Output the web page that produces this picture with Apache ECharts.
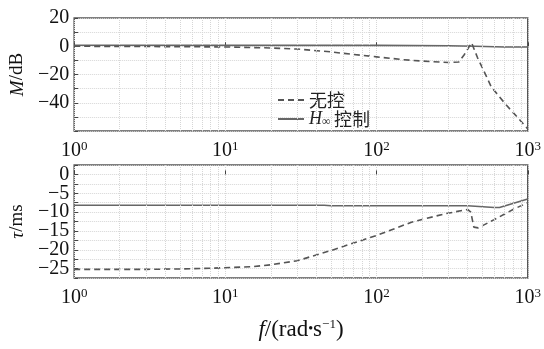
<!DOCTYPE html>
<html lang="zh">
<head>
    <meta charset="utf-8">
    <title>Bode - ECharts</title>
    <style>
* { margin: 0; padding: 0; }
#chart-container { position: relative; width: 544px; height: 349px; overflow: hidden; background: #fff; }
    </style>
</head>
<body>
<div id="chart-container"></div>
<script src="https://fastly.jsdelivr.net/npm/echarts@6/dist/echarts.min.js"></script>
<script>
// magnitude plot, M/dB
let magFreqOpen = [1, 3, 10, 20, 30, 50, 70, 100, 150, 200, 300, 350, 380, 425, 465, 515, 575, 630, 700, 770, 850, 1000];
let magOpen = [0, -0.2, -0.5, -1.2, -2, -4, -5.8, -7.5, -9.5, -10.5, -11.5, -11.2, -6, 2.5, -8, -18, -29, -34, -40, -45, -50, -58.5];
let magFreqHinf = [1, 100, 300, 450, 700, 1000];
let magHinf = [0.7, 0.6, 0.4, 0, -0.5, -0.5];

// delay plot, tau/ms
let tauFreqOpen = [1, 3, 5, 8, 15, 20, 30, 50, 100, 170, 280, 400, 420, 440, 470, 600, 800, 1000];
let tauOpen = [-25.2, -25.2, -25.1, -24.9, -24.5, -24, -22.9, -20.2, -16.2, -12.7, -10.5, -9.3, -10, -14, -14.2, -12, -9.3, -7.5];
let tauFreqHinf = [1, 45, 50, 400, 600, 650, 1000];
let tauHinf = [-8.2, -8.2, -8.3, -8.3, -8.8, -8.8, -6.5];

let minorX = [2, 3, 4, 5, 6, 7, 8, 9, 20, 30, 40, 50, 60, 70, 80, 90, 200, 300, 400, 500, 600, 700, 800, 900];

function zip(xs, ys) {
  return xs.map(function (x, i) { return [x, ys[i]]; });
}

var serif = "'Liberation Serif', 'DejaVu Serif', serif";
var lineColor = '#555';
var gridColor = '#d6d6d6';

var dom = document.getElementById('chart-container');
var myChart = echarts.init(dom, null, { renderer: 'canvas' });

function xAxisFor(idx, withName) {
  var ax = {
    type: 'log',
    logBase: 10,
    gridIndex: idx,
    min: 1,
    max: 1000,
    axisLine: { show: false },
    axisTick: { show: true, inside: true, length: 4, lineStyle: { color: '#444' } },
    splitLine: { show: true, lineStyle: { color: gridColor, type: 'dotted' } },
    axisLabel: {
      margin: 9,
      formatter: function (v) {
        return '{b|10}{s|' + Math.round(Math.log10(v)) + '}';
      },
      rich: {
        b: { fontFamily: serif, fontSize: 20, color: '#111' },
        s: { fontFamily: serif, fontSize: 13, color: '#111', verticalAlign: 'top', padding: [0, 0, 9, 0] }
      }
    }
  };
  if (withName) {
    ax.name = '{i|f}{n|/(rad}{d|•}{n|s}{s|−1}{n|)}';
    ax.nameLocation = 'middle';
    ax.nameGap = 40;
    ax.nameTextStyle = {
      rich: {
        i: { fontFamily: serif, fontStyle: 'italic', fontSize: 23, color: '#111' },
        n: { fontFamily: serif, fontSize: 23, color: '#111' },
        d: { fontFamily: serif, fontSize: 14, color: '#111' },
        s: { fontFamily: serif, fontSize: 13, color: '#111', verticalAlign: 'top', padding: [0, 0, 10, 0] }
      }
    };
  }
  return ax;
}

function yLabel(step, lowest) {
  return function (v) {
    if (v <= lowest) return '';
    if (Math.abs(v / step - Math.round(v / step)) > 1e-6) return '';
    if (v < 0) return '−' + Math.abs(v);
    return String(v);
  };
}

function minorLines() {
  return {
    silent: true,
    symbol: ['none', 'none'],
    label: { show: false },
    lineStyle: { color: gridColor, type: 'dotted', width: 1 },
    data: minorX.map(function (x) { return { xAxis: x }; })
  };
}

var option = {
  animation: false,
  grid: [
    { left: 72, top: 18, width: 463, height: 113, show: true, borderColor: '#555', borderWidth: 1.5 },
    { left: 72, top: 165, width: 463, height: 113, show: true, borderColor: '#555', borderWidth: 1.5 }
  ],
  legend: {
    left: 272,
    top: 86,
    orient: 'vertical',
    itemGap: 1,
    itemWidth: 26,
    itemHeight: 12,
    itemStyle: { color: 'rgba(0,0,0,0)', borderWidth: 0 },
    data: ['无控', 'Hinf'],
    formatter: function (name) {
      if (name === 'Hinf') return '{i|H}{sub|∞} {c|控制}';
      return '{c|' + name + '}';
    },
    textStyle: {
      rich: {
        c: { fontFamily: 'Noto Sans CJK SC', fontSize: 18, color: '#222' },
        i: { fontFamily: serif, fontStyle: 'italic', fontSize: 18, color: '#222' },
        sub: { fontFamily: serif, fontSize: 12, color: '#222', verticalAlign: 'bottom', padding: [6, 0, 0, 0] }
      }
    }
  },
  xAxis: [xAxisFor(0, false), xAxisFor(1, true)],
  yAxis: [
    {
      type: 'value',
      gridIndex: 0,
      min: -60,
      max: 20,
      interval: 10,
      name: '{i|M}{n|/dB}',
      nameLocation: 'middle',
      nameRotate: 90,
      nameGap: 46,
      nameTextStyle: {
        rich: {
          i: { fontFamily: serif, fontStyle: 'italic', fontSize: 19, color: '#111' },
          n: { fontFamily: serif, fontSize: 19, color: '#111' }
        }
      },
      axisLine: { show: false },
      axisTick: { show: true, inside: true, length: 4, lineStyle: { color: '#444' } },
      splitLine: { show: true, lineStyle: { color: gridColor, type: 'dotted' } },
      axisLabel: { formatter: yLabel(20, -60), fontFamily: serif, fontSize: 20, color: '#111', margin: 5 }
    },
    {
      type: 'value',
      gridIndex: 1,
      min: -27.5,
      max: 2.5,
      interval: 2.5,
      name: '{i|τ}{n|/ms}',
      nameLocation: 'middle',
      nameRotate: 90,
      nameGap: 46,
      nameTextStyle: {
        rich: {
          i: { fontFamily: serif, fontStyle: 'italic', fontSize: 19, color: '#111' },
          n: { fontFamily: serif, fontSize: 19, color: '#111' }
        }
      },
      axisLine: { show: false },
      axisTick: { show: true, inside: true, length: 4, lineStyle: { color: '#444' } },
      splitLine: { show: true, lineStyle: { color: gridColor, type: 'dotted' } },
      axisLabel: { formatter: yLabel(5, -27.5), fontFamily: serif, fontSize: 20, color: '#111', margin: 5 }
    }
  ],
  series: [
    {
      name: 'Hinf',
      type: 'line',
      xAxisIndex: 0,
      yAxisIndex: 0,
      symbol: 'none',
      data: zip(magFreqHinf, magHinf),
      lineStyle: { color: '#666', width: 1.6 },
      itemStyle: { color: '#666' },
      markLine: minorLines(),
      z: 2
    },
    {
      name: '无控',
      type: 'line',
      xAxisIndex: 0,
      yAxisIndex: 0,
      symbol: 'none',
      data: zip(magFreqOpen, magOpen),
      lineStyle: { color: lineColor, width: 1.6, type: [6, 4] },
      itemStyle: { color: lineColor },
      z: 3
    },
    {
      name: 'Hinf',
      type: 'line',
      xAxisIndex: 1,
      yAxisIndex: 1,
      symbol: 'none',
      data: zip(tauFreqHinf, tauHinf),
      lineStyle: { color: '#666', width: 1.6 },
      itemStyle: { color: '#666' },
      markLine: minorLines(),
      z: 2
    },
    {
      name: '无控',
      type: 'line',
      xAxisIndex: 1,
      yAxisIndex: 1,
      symbol: 'none',
      data: zip(tauFreqOpen, tauOpen),
      lineStyle: { color: lineColor, width: 1.6, type: [6, 4] },
      itemStyle: { color: lineColor },
      z: 3
    }
  ]
};

myChart.setOption(option);
window.addEventListener('resize', myChart.resize);
</script>
</body>
</html>
